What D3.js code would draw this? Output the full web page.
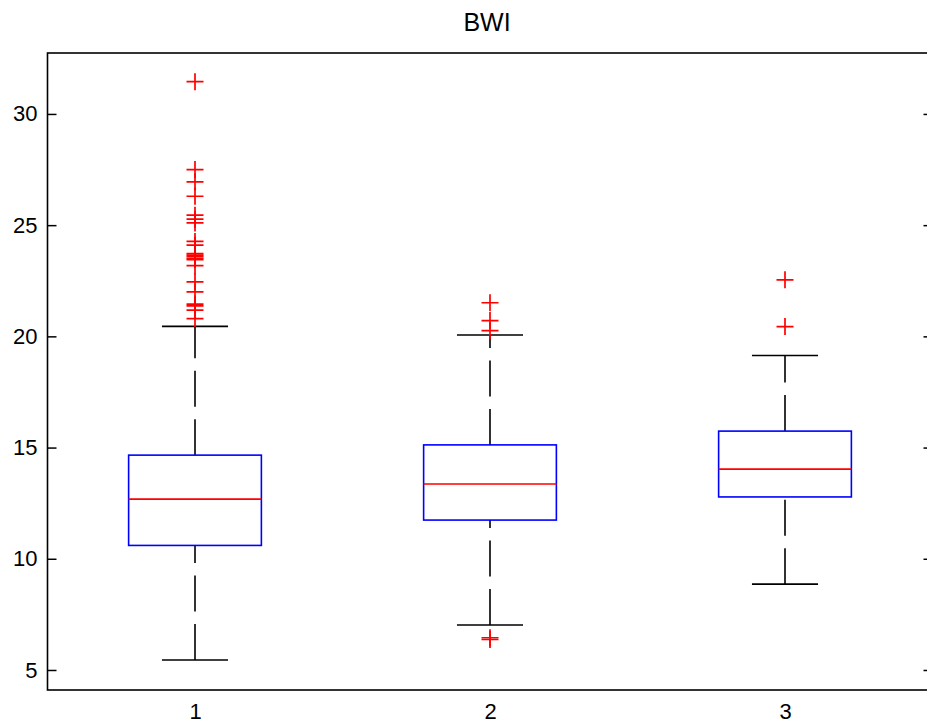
<!DOCTYPE html>
<html>
<head>
<meta charset="utf-8">
<script src="https://cdn.jsdelivr.net/npm/d3@7"></script>
<style>
  html, body { margin: 0; padding: 0; background: #fff; }
  svg { display: block; }
  text { font-family: "Liberation Sans", Arial, sans-serif; fill: #000; }
</style>
</head>
<body>
<div id="chart"></div>
<script>
// ---- data ----
const title = "BWI";
const categories = ["1", "2", "3"];
const q1 = [10.6, 11.74, 12.78];
const medians = [12.68, 13.36, 14.03];
const q3 = [14.66, 15.12, 15.74];
const whiskerLow = [5.45, 7.02, 8.86];
const whiskerHigh = [20.45, 20.06, 19.14];
const outliers1 = [31.45, 27.5, 26.95, 26.3, 25.45, 25.27, 25.1, 24.27, 24.1,
                   23.72, 23.65, 23.58, 23.5, 23.45, 23.18, 22.45, 22.0,
                   21.45, 21.37, 21.18, 20.8];
const outliers2 = [21.51, 20.71, 20.26, 6.45, 6.37];
const outliers3 = [22.54, 20.44];
const outliers = [outliers1, outliers2, outliers3];
const yTicks = [5, 10, 15, 20, 25, 30];

// ---- layout ----
const W = 927, H = 725;
const pLeft = 47.5, pRight = 932.5, pTop = 53, pBottom = 690;
const FONT = "Liberation Sans, Arial, sans-serif";

const svg = d3.select("#chart").append("svg")
  .attr("width", W).attr("height", H);

const x = d3.scaleLinear().domain([0.5, categories.length + 0.5]).range([pLeft, pRight]);
const y = d3.scaleLinear().domain([4.1, 32.74]).range([pBottom, pTop]);

const boxHalf = 0.225, capHalf = 0.112;

// frame
svg.append("rect")
  .attr("x", pLeft).attr("y", pTop)
  .attr("width", pRight - pLeft).attr("height", pBottom - pTop)
  .attr("fill", "none").attr("stroke", "#000").attr("stroke-width", 1.6);

// y axes (left & right, ticks inward)
const yAxisL = d3.axisLeft(y).tickValues(yTicks).tickSizeInner(-9).tickSizeOuter(0).tickPadding(10);
const gL = svg.append("g").attr("transform", `translate(${pLeft},0)`).call(yAxisL);
gL.select(".domain").remove();
gL.selectAll(".tick line").attr("stroke", "#000").attr("stroke-width", 1.5);
gL.selectAll(".tick text").attr("font-size", 22).attr("font-family", FONT).attr("fill", "#000");

const yAxisR = d3.axisRight(y).tickValues(yTicks).tickSizeInner(-9).tickSizeOuter(0).tickFormat("");
const gR = svg.append("g").attr("transform", `translate(${pRight},0)`).call(yAxisR);
gR.select(".domain").remove();
gR.selectAll(".tick line").attr("stroke", "#000").attr("stroke-width", 1.5);

// x axis labels (no tick marks)
const xAxis = d3.axisBottom(x).tickValues(categories.map((c, i) => i + 1))
  .tickFormat((d, i) => categories[i]).tickSize(0).tickPadding(13);
const gX = svg.append("g").attr("transform", `translate(0,${pBottom})`).call(xAxis);
gX.select(".domain").remove();
gX.selectAll(".tick text").attr("font-size", 22).attr("font-family", FONT).attr("fill", "#000");

// title
svg.append("text").attr("x", 487).attr("y", 31)
  .attr("text-anchor", "middle").attr("font-size", 25).attr("font-family", FONT).text(title);

// boxes
const g = svg.append("g");
categories.forEach((c, i) => {
  const cx = i + 1;
  // whiskers (drawn upward, dashed)
  g.append("line")
    .attr("x1", x(cx)).attr("x2", x(cx))
    .attr("y1", y(q3[i])).attr("y2", y(whiskerHigh[i]))
    .attr("stroke", "#000").attr("stroke-width", 1.6).attr("stroke-dasharray", "36,12.5");
  g.append("line")
    .attr("x1", x(cx)).attr("x2", x(cx))
    .attr("y1", y(whiskerLow[i])).attr("y2", y(q1[i]))
    .attr("stroke", "#000").attr("stroke-width", 1.6).attr("stroke-dasharray", "36,12.5");
  // caps
  [whiskerLow[i], whiskerHigh[i]].forEach(v => {
    g.append("line")
      .attr("x1", x(cx - capHalf)).attr("x2", x(cx + capHalf))
      .attr("y1", y(v)).attr("y2", y(v))
      .attr("stroke", "#000").attr("stroke-width", 1.6);
  });
  // box
  g.append("rect")
    .attr("x", x(cx - boxHalf)).attr("width", x(cx + boxHalf) - x(cx - boxHalf))
    .attr("y", y(q3[i])).attr("height", y(q1[i]) - y(q3[i]))
    .attr("fill", "none").attr("stroke", "#0000ff").attr("stroke-width", 1.6);
  // median
  g.append("line")
    .attr("x1", x(cx - boxHalf)).attr("x2", x(cx + boxHalf))
    .attr("y1", y(medians[i])).attr("y2", y(medians[i]))
    .attr("stroke", "#ff0000").attr("stroke-width", 1.6);
  // outliers
  outliers[i].forEach(v => {
    const px = x(cx), py = y(v), s = 8.5;
    g.append("path")
      .attr("d", `M${px - s},${py}H${px + s}M${px},${py - s}V${py + s}`)
      .attr("stroke", "#ff0000").attr("stroke-width", 1.7).attr("fill", "none");
  });
});
</script>
</body>
</html>
